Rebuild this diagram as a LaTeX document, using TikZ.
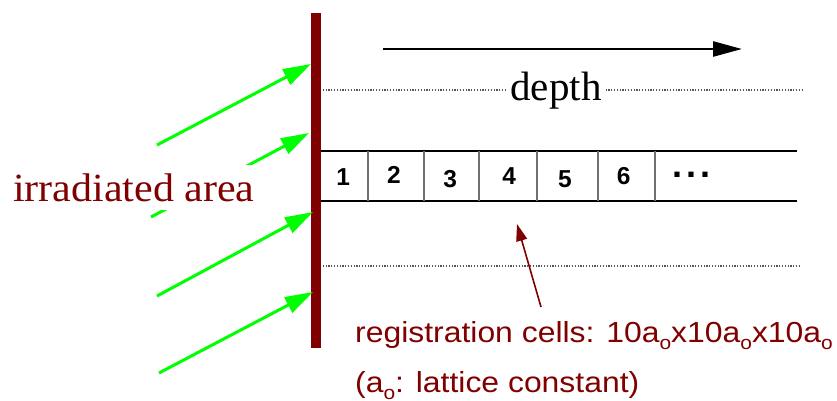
\documentclass[tikz,border=0pt]{standalone}
\usepackage{fontspec}
\setmainfont{Liberation Serif}
\newfontfamily\serifwide[FakeStretch=1.05]{Liberation Serif}
\newfontfamily\lsans{Liberation Sans}
\newfontfamily\lsanswide[FakeStretch=1.1]{Liberation Sans}
\usetikzlibrary{arrows.meta}
\definecolor{maroon}{HTML}{800000}
\definecolor{brightgreen}{HTML}{00FF00}
\definecolor{divgray}{HTML}{707070}
\definecolor{dotgray}{HTML}{555555}
\newcommand{\subo}{\raisebox{-7pt}{\fontsize{19}{19}\selectfont o}}
\begin{document}
\begin{tikzpicture}[x=1pt,y=-1pt,
  greenarrow/.style={draw=brightgreen, line width=3pt, -{Triangle[length=28pt,width=17pt]}},
  dotline/.style={draw=dotgray, line width=1.1pt, dash pattern=on 1.2pt off 1.6pt},
  stripline/.style={draw=black, line width=2.6pt},
  divider/.style={draw=divgray, line width=1.1pt},
  num/.style={font=\lsans\bfseries\fontsize{24.5}{24.5}\selectfont, anchor=base, inner sep=0pt},
  redtext/.style={font=\lsanswide\fontsize{29}{29}\selectfont, text=maroon, anchor=base west, inner sep=0pt}
]
\useasboundingbox (0,0) rectangle (837,400);

% dotted guide lines
\coordinate (d1a) at (320,90); \coordinate (d1b) at (803,90);
\coordinate (d2a) at (320,266); \coordinate (d2b) at (799,266);
\draw[dotline] (d1a) -- (d1b);
\draw[dotline] (d2a) -- (d2b);

% depth label and arrow
\node[font=\fontsize{41}{41}\selectfont, fill=white, anchor=base, inner xsep=3pt, inner ysep=1pt] (depth) at (556,100) {depth};
\coordinate (da) at (383,49); \coordinate (db) at (742,49);
\draw[line width=2.6pt, -{Triangle[length=29pt,width=15pt]}] (da) -- (db);

% registration strip
\coordinate (s1a) at (315,151); \coordinate (s1b) at (797,151);
\coordinate (s2a) at (315,201); \coordinate (s2b) at (797,201);
\draw[stripline] (s1a) -- (s1b);
\draw[stripline] (s2a) -- (s2b);
\foreach \x/\n in {368/c1,424/c2,479/c3,537/c4,598/c5,655/c6}{
  \coordinate (\n t) at (\x,151); \coordinate (\n b) at (\x,201);
  \draw[divider] (\n t) -- (\n b);
}
\node[num] (n1) at (343.3,185) {1};
\node[num] (n2) at (394,183.3) {2};
\node[num] (n3) at (450.3,187.3) {3};
\node[num] (n4) at (509.3,184.3) {4};
\node[num] (n5) at (565,187.7) {5};
\node[num] (n6) at (623.7,184.3) {6};
\node[font=\lsans\bfseries\fontsize{36}{36}\selectfont, anchor=base, inner sep=0pt] (dots) at (691,177.5) {.\kern4pt.\kern4pt.};

% surface bar
\coordinate (bt) at (316,13); \coordinate (bb) at (316,348);
\draw[draw=maroon, line width=10pt] (bt) -- (bb);

% green arrows
\coordinate (g1s) at (157,145); \coordinate (g1e) at (311,64);
\coordinate (g2s) at (151,217); \coordinate (g2e) at (309,133);
\coordinate (g3s) at (157,296); \coordinate (g3e) at (313,212);
\coordinate (g4s) at (159,373); \coordinate (g4e) at (313,292);
\draw[greenarrow] (g1s) -- (g1e);
\draw[greenarrow] (g2s) -- (g2e);
\draw[greenarrow] (g3s) -- (g3e);
\draw[greenarrow] (g4s) -- (g4e);

% irradiated area label (covers middle of arrow 2)
\node[font=\serifwide\fontsize{40}{40}\selectfont, text=maroon, fill=white, anchor=base west, inner xsep=0pt, inner ysep=8.5pt] (irr) at (13,201) {irradiated area};

% registration cells annotation
\node[redtext] (reg) at (355,342) {registration cells: 10a\subo x10a\subo x10a\subo};
\node[redtext] (lat) at (355,392) {(a\subo: lattice constant)};
\coordinate (ra) at (541,307); \coordinate (rb) at (517,224);
\draw[draw=maroon, line width=1.6pt, -{Triangle[length=17pt,width=11pt]}] (ra) -- (rb);
\end{tikzpicture}
\end{document}
